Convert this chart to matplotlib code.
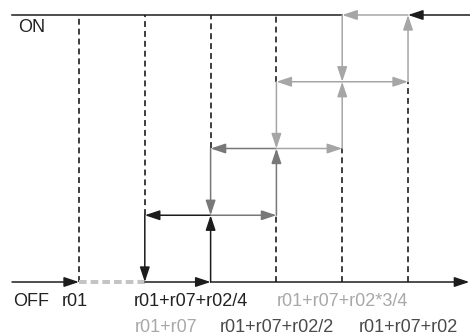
import matplotlib.pyplot as plt
from matplotlib.patches import FancyArrowPatch

# switching thresholds (x axis) and output levels (y axis)
thresholds = ["r01", "r01+r07", "r01+r07+r02/4", "r01+r07+r02/2",
              "r01+r07+r02*3/4", "r01+r07+r02"]
output_levels = ["OFF", "", "", "", "ON"]

# threshold index where stage k switches on / off
stage_on = [2, 3, 4, 5]
stage_off = [1, 2, 3, 4]

stage_colors = ["#1c1c1c", "#787878", "#a6a6a6", "#a6a6a6"]
label_colors = ["#222222", "#a8a8a8", "#222222", "#4a4a4a", "#a8a8a8", "#4a4a4a"]
label_row = [0, 1, 0, 1, 0, 1]
label_shift = [-0.06, 0.32, -0.30, 0.0, 0.0, 0.0]

plt.rcParams["font.family"] = ["Liberation Sans", "DejaVu Sans"]

fig = plt.figure(figsize=(4.7, 3.36), dpi=100)
ax = fig.add_axes([0, 0, 1, 1])
ax.set_xlim(-1.2006, 5.942)
ax.set_ylim(-0.809, 4.2247)
ax.axis("off")

top = len(output_levels) - 1
x_left = -1.018
x_right = 5.942


def arrow(x0, y0, x1, y1, color):
    ax.add_patch(FancyArrowPatch((x0, y0), (x1, y1),
                                 arrowstyle="-|>,head_length=9,head_width=3",
                                 mutation_scale=1, color=color, lw=1.1,
                                 shrinkA=0, shrinkB=0, zorder=3))


# dashed guide lines where no transition is drawn
for i in range(len(thresholds)):
    solid = []
    for k in range(len(stage_on)):
        if stage_on[k] == i or stage_off[k] == i:
            solid.append((k, k + 1))
    y = 0
    segs = []
    for a, b in sorted(solid):
        if a > y:
            segs.append((y, a))
        y = max(y, b)
    if y < top:
        segs.append((y, top))
    for a, b in segs:
        ax.plot([i, i], [a, b], color="#262626", lw=1.25,
                linestyle=(0, (3.4, 2.3)), zorder=1)

# OFF / ON base lines
arrow(x_left, 0, 0, 0, "#1c1c1c")
ax.plot([0, stage_off[0]], [0, 0], color="#c4c4c4", lw=2.9,
        linestyle=(0, (1.9, 1.0)), solid_capstyle="butt", zorder=2)
arrow(stage_on[0], 0, x_right - 0.01, 0, "#1c1c1c")
ax.plot([x_left, stage_off[-1]], [top, top], color="#1c1c1c", lw=1.1, zorder=2)
arrow(x_right, top, stage_on[-1], top, "#1c1c1c")

# hysteresis loops of each stage
for k in range(len(stage_on)):
    c = stage_colors[k]
    arrow(stage_off[k], k, stage_on[k], k, c)
    arrow(stage_on[k], k, stage_on[k], k + 1, c)
    arrow(stage_on[k], k + 1, stage_off[k], k + 1, c)
    arrow(stage_off[k], k + 1, stage_off[k], k, c)

# labels
ax.text(x_left + 0.02, -0.36, output_levels[0], fontsize=13,
        color="#222222", ha="left", va="baseline")
ax.text(x_left + 0.09, 3.745, output_levels[-1], fontsize=13,
        color="#222222", ha="left", va="baseline")
row_y = [-0.36, -0.75]
for i, name in enumerate(thresholds):
    ax.text(i + label_shift[i], row_y[label_row[i]], name, fontsize=13,
            color=label_colors[i], ha="center", va="baseline")

fig.savefig("out.png", dpi=100)
